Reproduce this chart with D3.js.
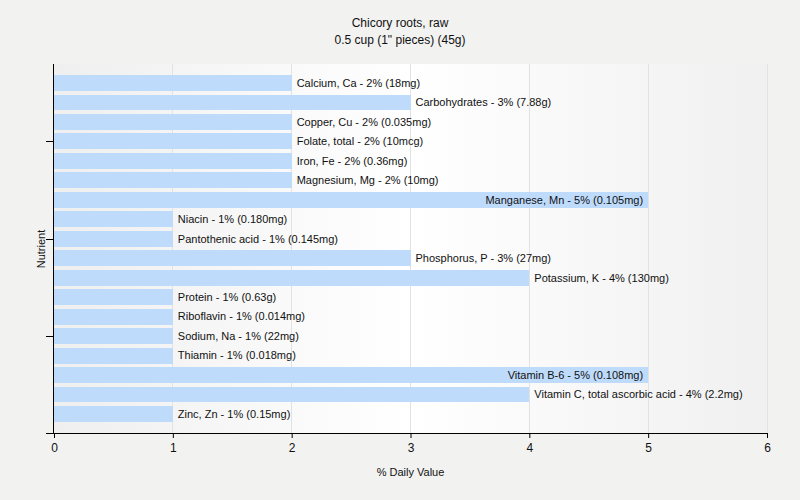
<!DOCTYPE html>
<html><head><meta charset="utf-8">
<script src="https://cdn.jsdelivr.net/npm/d3@7"></script>
<style>body{margin:0;background:#f2f2f1;} text{font-family:Tahoma,"Liberation Sans",Arial,sans-serif;}</style>
</head><body>
<svg id="c" width="800" height="500"></svg>
<script>
const nutrients = ["Calcium, Ca","Carbohydrates","Copper, Cu","Folate, total","Iron, Fe","Magnesium, Mg","Manganese, Mn","Niacin","Pantothenic acid","Phosphorus, P","Potassium, K","Protein","Riboflavin","Sodium, Na","Thiamin","Vitamin B-6","Vitamin C, total ascorbic acid","Zinc, Zn"];
const values = [2,3,2,2,2,2,5,1,1,3,4,1,1,1,1,5,4,1];
const amounts = ["18mg","7.88g","0.035mg","10mcg","0.36mg","10mg","0.105mg","0.180mg","0.145mg","27mg","130mg","0.63g","0.014mg","22mg","0.018mg","0.108mg","2.2mg","0.15mg"];
const xTicks = [0,1,2,3,4,5,6];
const yTickIdx = [3,8,13];

const svg = d3.select("#c");
const L=54, R=767, T=64, B=433;
const x = d3.scaleLinear().domain([0,6]).range([L,R]);
const y = d3.scaleBand().domain(nutrients).range([73.3,423.7]).paddingInner(0.18).paddingOuter(0.09);

const defs = svg.append("defs");
const g = defs.append("linearGradient").attr("id","bg").attr("x1","0").attr("x2","1").attr("y1","0").attr("y2","0");
g.append("stop").attr("offset","0").attr("stop-color","#efefef");
g.append("stop").attr("offset","0.5").attr("stop-color","#ffffff");
g.append("stop").attr("offset","1").attr("stop-color","#f0f0f0");

svg.append("rect").attr("x",L).attr("y",T).attr("width",R-L).attr("height",B-T).attr("fill","url(#bg)");
svg.append("g").selectAll("line").data(xTicks.slice(1)).join("line")
  .attr("x1",d=>x(d)).attr("x2",d=>x(d)).attr("y1",T).attr("y2",B)
  .attr("stroke","#e2e2e2").attr("stroke-width",1).attr("shape-rendering","crispEdges");

svg.append("g").selectAll("rect").data(nutrients).join("rect")
  .attr("x",x(0)).attr("y",d=>y(d)).attr("width",(d,i)=>x(values[i])-x(0)).attr("height",y.bandwidth())
  .attr("fill","#bfdbfc").attr("shape-rendering","crispEdges");

const lab = svg.append("g").attr("font-size","11px").attr("fill","#111");
nutrients.forEach((n,i)=>{
  const s = `${n} - ${values[i]}% (${amounts[i]})`;
  const t = lab.append("text").attr("y",y(n)+y.bandwidth()/2).attr("dy","0.35em").text(s);
  const w = t.node().getComputedTextLength();
  if (x(values[i])+5+w > R) t.attr("x",x(values[i])-5).attr("text-anchor","end");
  else t.attr("x",x(values[i])+5);
});

const xa = svg.append("g").attr("transform",`translate(0,${B})`)
  .call(d3.axisBottom(x).tickValues(xTicks).tickSize(5).tickSizeOuter(0).tickFormat(d3.format("d")));
xa.select(".domain").remove();
xa.selectAll("text").attr("font-size","12px").attr("fill","#111").attr("dy","0.95em");
xa.selectAll("line").attr("stroke","#000");
svg.append("line").attr("x1",46).attr("x2",R).attr("y1",B+0.5).attr("y2",B+0.5).attr("stroke","#000");
svg.append("line").attr("x1",L-0.5).attr("x2",L-0.5).attr("y1",T).attr("y2",B).attr("stroke","#000");
svg.append("g").selectAll("line").data(yTickIdx).join("line")
  .attr("x1",46).attr("x2",L).attr("y1",d=>Math.round(y(nutrients[d])+y.bandwidth()/2)+0.5).attr("y2",d=>Math.round(y(nutrients[d])+y.bandwidth()/2)+0.5)
  .attr("stroke","#000");

svg.append("text").attr("x",400).attr("y",27).attr("text-anchor","middle").attr("font-size","12px").attr("fill","#111").text("Chicory roots, raw");
svg.append("text").attr("x",400).attr("y",44).attr("text-anchor","middle").attr("font-size","12px").attr("fill","#111").text("0.5 cup (1\" pieces) (45g)");
svg.append("text").attr("x",(L+R)/2).attr("y",476).attr("text-anchor","middle").attr("font-size","11px").attr("fill","#111").text("% Daily Value");
svg.append("text").attr("transform","translate(45,249) rotate(-90)").attr("text-anchor","middle").attr("font-size","11px").attr("fill","#111").text("Nutrient");
</script>
</body></html>
